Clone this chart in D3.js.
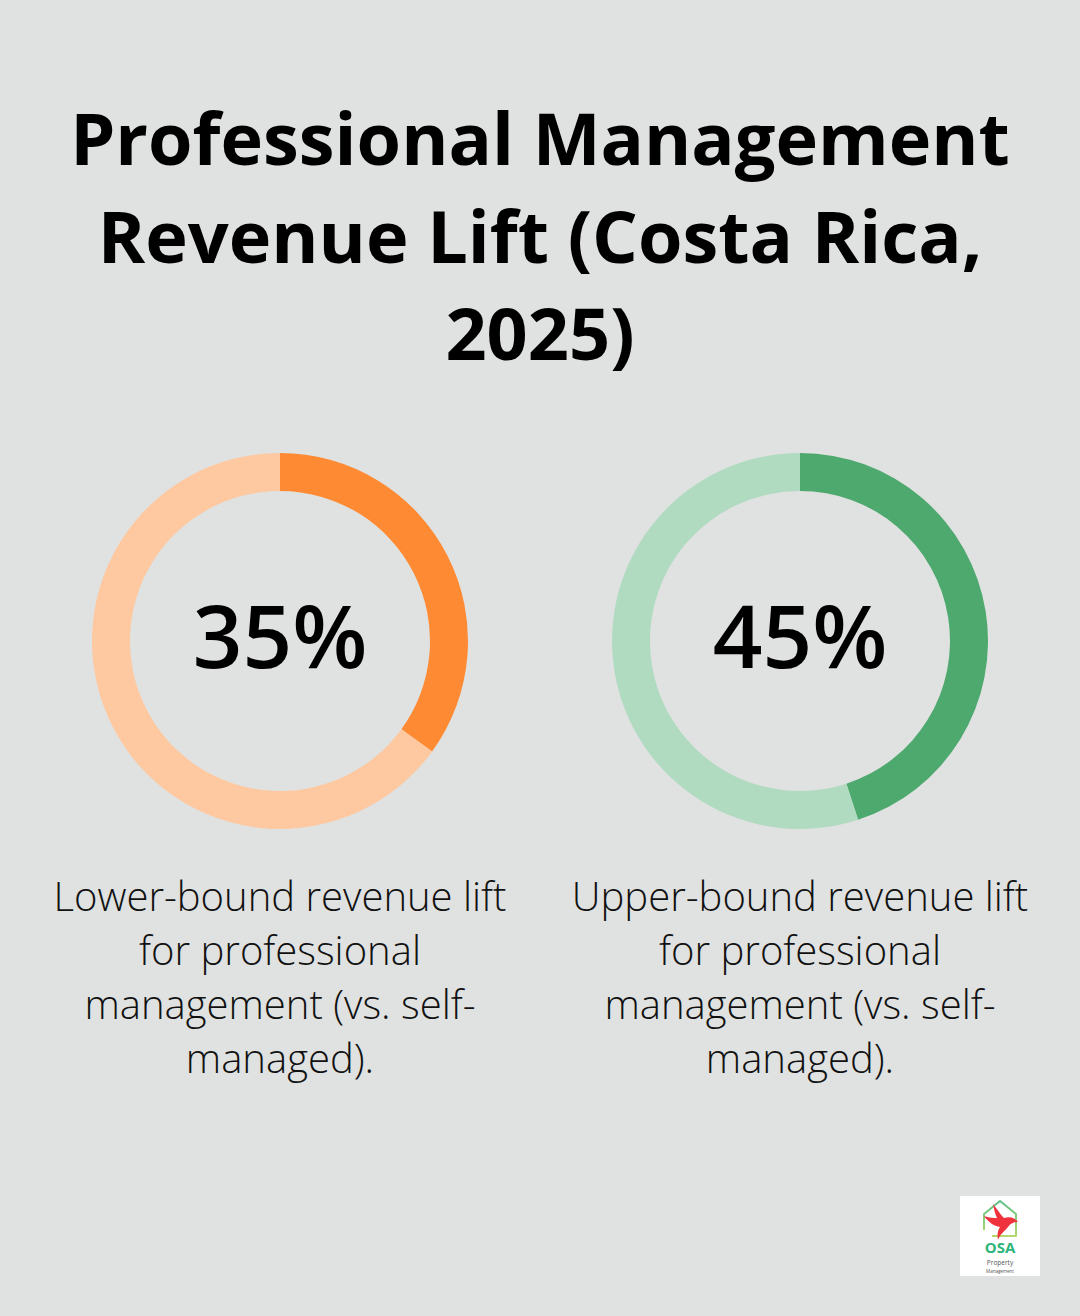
<!DOCTYPE html>
<html>
<head>
<meta charset="utf-8">
<script src="https://cdn.jsdelivr.net/npm/d3@7"></script>
<style>
  html, body { margin: 0; padding: 0; background: #e0e2e1; }
  svg { display: block; font-family: "Open Sans", sans-serif; }
</style>
</head>
<body>
<svg id="chart"></svg>
<script>
/* chart data */
const titleLines = ["Professional Management", "Revenue Lift (Costa Rica,", "2025)"];
const metrics = ["Lower-bound", "Upper-bound"];
const values = [35, 45];
const labels = ["35%", "45%"];
const descriptions = [
  ["Lower-bound revenue lift", "for professional", "management (vs. self-", "managed)."],
  ["Upper-bound revenue lift", "for professional", "management (vs. self-", "managed)."]
];
const fillColors = ["#fe8b34", "#4ea96e"];
const trackColors = ["#fec8a0", "#b1dbc1"];

const width = 1080, height = 1316;

const svg = d3.select("#chart")
    .attr("width", width)
    .attr("height", height);

svg.append("rect")
    .attr("width", width)
    .attr("height", height)
    .attr("fill", "#e0e2e1");

/* title */
svg.append("g")
  .selectAll("text")
  .data(titleLines)
  .join("text")
    .attr("x", width / 2)
    .attr("y", (d, i) => 165 + i * 97.5)
    .attr("text-anchor", "middle")
    .attr("font-size", 72)
    .attr("font-weight", 700)
    .attr("fill", "#000")
    .text(d => d);

/* donut positions */
const x = d3.scalePoint().domain(metrics).range([280, 800]);
const cy = 641;
const outerR = 188, innerR = 150;

const pie = d3.pie().sort(null).value(d => d);
const arc = d3.arc().innerRadius(innerR).outerRadius(outerR);

const groups = svg.selectAll("g.donut")
  .data(metrics)
  .join("g")
    .attr("class", "donut")
    .attr("transform", d => `translate(${x(d)}, ${cy})`);

groups.each(function(d, i) {
    const g = d3.select(this);
    const slices = pie([values[i], 100 - values[i]]);
    g.selectAll("path")
      .data(slices)
      .join("path")
        .attr("d", arc)
        .attr("fill", (s, j) => j === 0 ? fillColors[i] : trackColors[i]);

    g.append("text")
        .attr("y", 27)
        .attr("text-anchor", "middle")
        .attr("font-size", 87)
        .attr("font-weight", 550)
        .attr("fill", "#000")
        .text(labels[i]);

    g.append("g")
      .selectAll("text")
      .data(descriptions[i])
      .join("text")
        .attr("y", (t, k) => 911 - cy + k * 54)
        .attr("text-anchor", "middle")
        .attr("font-size", 40)
        .attr("font-weight", 300)
        .attr("fill", "#111")
        .text(t => t);
});

/* logo */
const logo = svg.append("g").attr("transform", "translate(960, 1196)");
logo.append("rect").attr("width", 80).attr("height", 80).attr("fill", "#fff");
const grad = svg.append("defs").append("linearGradient")
    .attr("id", "houseGrad").attr("x1", 0).attr("y1", 0).attr("x2", 0).attr("y2", 1);
grad.append("stop").attr("offset", "0%").attr("stop-color", "#5cc08a");
grad.append("stop").attr("offset", "100%").attr("stop-color", "#b5d96a");
logo.append("path")
    .attr("d", "M24,34 L24,18 L40,5 L56,18 L56,40 L32,40")
    .attr("fill", "none")
    .attr("stroke", "url(#houseGrad)")
    .attr("stroke-width", 2)
    .attr("stroke-linejoin", "round");
logo.append("path")
    .attr("d", "M33,8 C38,14 40,18 44,22 C50,20 55,22 58,26 C53,26 50,28 48,31 C44,36 40,38 38,44 C37,38 38,34 40,31 C34,30 28,26 24,20 C30,22 34,22 37,22 C35,18 34,13 33,8 Z")
    .attr("fill", "#f0323c");
logo.append("text")
    .attr("x", 40).attr("y", 57)
    .attr("text-anchor", "middle")
    .attr("font-size", 15)
    .attr("font-weight", 700)
    .attr("fill", "#2fb57a")
    .text("OSA");
logo.append("text")
    .attr("x", 40).attr("y", 69)
    .attr("text-anchor", "middle")
    .attr("font-size", 6.5)
    .attr("fill", "#555")
    .text("Property");
logo.append("text")
    .attr("x", 40).attr("y", 77)
    .attr("text-anchor", "middle")
    .attr("font-size", 4.5)
    .attr("fill", "#555")
    .text("Management");
</script>
</body>
</html>
